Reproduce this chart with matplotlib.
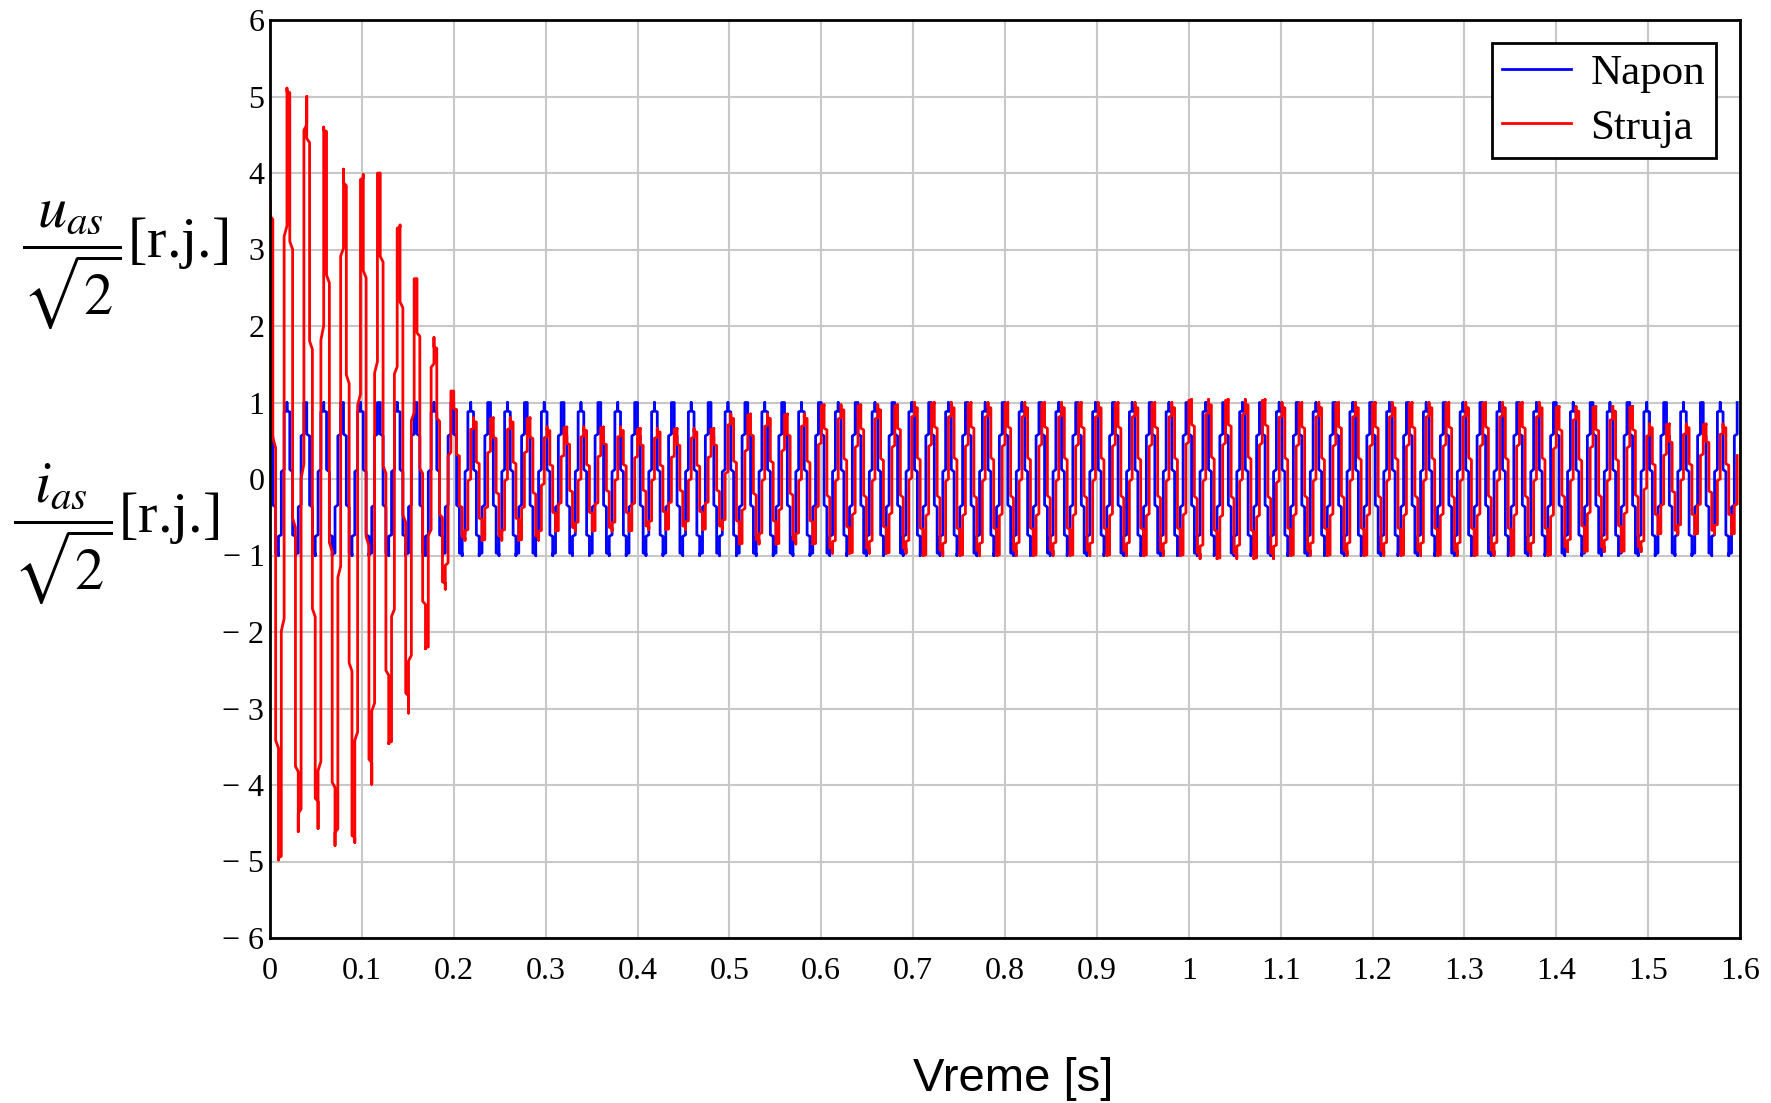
import numpy as np
import matplotlib
matplotlib.use('Agg')
import matplotlib.pyplot as plt

plt.rcParams['mathtext.fontset'] = 'stix'

# values
t_end = 1.6
f_grid = 50.0          # both traces: one peak every 0.02 s
napon_amp = 1.0        # voltage always swings between -1 and 1

# current extrema during the start-up transient (time [s], value [r.j.])
struja_peak_t = [0.0, 0.002, 0.012, 0.021, 0.033, 0.041, 0.054, 0.061,
                 0.073, 0.082, 0.093, 0.102, 0.112, 0.120, 0.132, 0.142,
                 0.152, 0.160, 0.172, 0.180, 0.192, 0.200]
struja_peak_v = [2.5, 3.65, -4.98, 5.11, -4.61, 5.00, -4.57, 4.60,
                 -4.79, 4.05, -4.75, 3.98, -3.99, 4.00, -3.46, 3.32,
                 -3.06, 2.62, -2.22, 1.85, -1.44, 1.15]

# steady-state current amplitude, per 0.1 s segment starting at 0.2 s
struja_seg_start = [0.2, 0.3, 0.4, 0.5, 0.6, 0.7, 0.8, 0.9, 1.0, 1.1,
                    1.2, 1.3, 1.4, 1.5]
struja_seg_amp = [0.80, 0.68, 0.66, 0.85, 0.97, 1.00, 1.00, 1.00, 1.04,
                  1.00, 1.00, 1.00, 0.95, 0.72]
struja_lag = 0.0035    # current peaks trail voltage peaks by ~3.5 ms

x_ticks = [0, 0.1, 0.2, 0.3, 0.4, 0.5, 0.6, 0.7, 0.8, 0.9, 1.0, 1.1,
           1.2, 1.3, 1.4, 1.5, 1.6]
y_ticks = [-6, -5, -4, -3, -2, -1, 0, 1, 2, 3, 4, 5, 6]


def half_cos(t, tk, vk):
    tk = np.asarray(tk)
    vk = np.asarray(vk)
    i = np.clip(np.searchsorted(tk, t, side='right') - 1, 0, len(tk) - 2)
    s = np.clip((t - tk[i]) / (tk[i + 1] - tk[i]), 0, 1)
    return vk[i] + (vk[i + 1] - vk[i]) * (1 - np.cos(np.pi * s)) / 2


# steady-state extrema after the transient
period = 1 / f_grid
ss_t = []
ss_v = []
tk = 0.2 + period / 2 + struja_lag
sign = -1
while tk < t_end + period:
    seg = np.searchsorted(struja_seg_start, tk, side='right') - 1
    ss_t.append(tk)
    ss_v.append(sign * struja_seg_amp[max(seg, 0)])
    tk += period / 2
    sign = -sign

all_t = struja_peak_t + ss_t
all_v = struja_peak_v + ss_v

t = np.arange(0, t_end, 1e-4)
napon = napon_amp * np.cos(2 * np.pi * f_grid * t)
struja = half_cos(t, all_t, all_v)

# coarse pixel columns like the original plot renderer
col_w = t_end / 520
tx = np.floor(t / col_w) * col_w

fig = plt.figure(figsize=(17.71, 11.03), dpi=100)
ax = fig.add_axes([270 / 1771, (1103 - 938) / 1103, 1470 / 1771, (938 - 20) / 1103])

ax.plot(tx, napon, color='#0000ff', lw=2.0, label='Napon')
ax.plot(tx, struja, color='#ff0000', lw=2.0, label='Struja')

ax.set_xlim(0, t_end)
ax.set_ylim(-6, 6)
ax.set_xticks(x_ticks)
ax.set_xticklabels(['{:g}'.format(v) for v in x_ticks])
ax.set_yticks(y_ticks)
ax.set_yticklabels([('\u2212 {}'.format(-v) if v < 0 else str(v)) for v in y_ticks])
for lab in ax.get_xticklabels() + ax.get_yticklabels():
    lab.set_family('Liberation Serif')
    lab.set_fontsize(23)
ax.tick_params(axis='both', length=0)
ax.tick_params(axis='x', pad=14)
ax.tick_params(axis='y', pad=4)
ax.grid(True, color='#c8c8c8', lw=1.5)
ax.set_axisbelow(True)
for sp in ax.spines.values():
    sp.set_linewidth(2)
    sp.set_color('black')

leg = ax.legend(loc='upper right', bbox_to_anchor=(1716 / 1771, 1 - 43 / 1103),
                bbox_transform=fig.transFigure, fancybox=False, edgecolor='black',
                framealpha=1, prop={'family': 'Liberation Serif', 'size': 31},
                handlelength=1.6, handletextpad=0.45, borderpad=0.25,
                labelspacing=0.36, borderaxespad=0)
leg.get_frame().set_linewidth(2)
for h in leg.get_lines():
    h.set_linewidth(2.0)

fig.text(22 / 1771, 1 - 258 / 1103, r'$\dfrac{u_{as}}{\sqrt{2}}$[r.j.]',
         family='Liberation Serif', fontsize=42, ha='left', va='baseline')
fig.text(13 / 1771, 1 - 533 / 1103, r'$\dfrac{i_{as}}{\sqrt{2}}$[r.j.]',
         family='Liberation Serif', fontsize=42, ha='left', va='baseline')
fig.text(1013 / 1771, 1 - 1079 / 1103, 'Vreme [s]', family='Liberation Sans',
         fontsize=34, ha='center', va='center')

fig.savefig('out.png', dpi=100)
